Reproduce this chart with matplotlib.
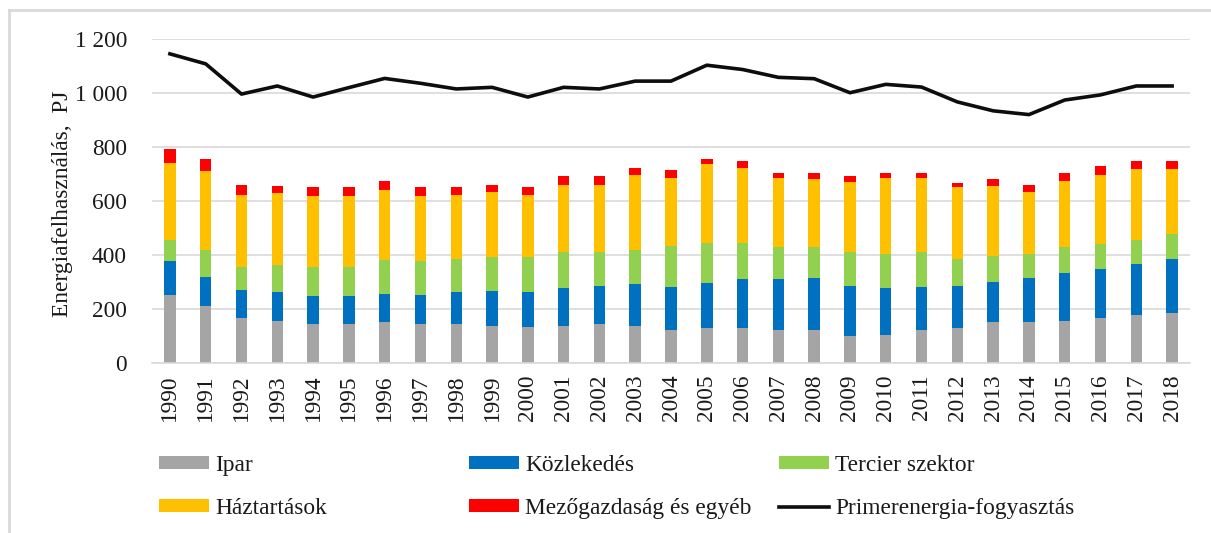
import matplotlib
matplotlib.use("Agg")
import matplotlib.pyplot as plt
from matplotlib.patches import Patch
from matplotlib.lines import Line2D
from matplotlib.ticker import FuncFormatter

years = [str(y) for y in range(1990, 2019)]
ipar = [252, 210, 167, 157, 143, 143, 152, 143, 143, 138, 133, 138, 143, 138, 124,
        129, 129, 124, 124, 100, 105, 124, 129, 152, 152, 157, 167, 177, 187]
kozlekedes = [124, 109, 105, 105, 105, 105, 105, 109, 119, 129, 129, 139, 144, 154, 158,
              166, 181, 186, 191, 187, 172, 158, 158, 148, 163, 177, 182, 190, 199]
tercier = [81, 100, 85, 100, 109, 109, 125, 124, 124, 124, 129, 133, 123, 127, 152,
           149, 134, 119, 114, 123, 128, 128, 99, 96, 90, 95, 90, 90, 91]
haztartasok = [285, 293, 266, 266, 261, 261, 259, 242, 237, 242, 232, 251, 251, 276, 251,
               293, 279, 256, 251, 261, 280, 275, 265, 260, 228, 246, 259, 260, 240]
mezogazdasag = [52, 43, 38, 28, 33, 33, 34, 33, 28, 28, 28, 30, 30, 28, 28,
                19, 24, 18, 23, 20, 18, 18, 15, 24, 25, 28, 30, 30, 30]
primer = [1145, 1108, 996, 1026, 985, 1020, 1054, 1036, 1015, 1021, 985, 1021, 1015, 1044, 1044,
          1103, 1087, 1058, 1053, 1001, 1032, 1022, 967, 934, 920, 974, 993, 1026, 1026]

series = [
    ("Ipar", ipar, "#A5A5A5"),
    ("Közlekedés", kozlekedes, "#0070C0"),
    ("Tercier szektor", tercier, "#92D050"),
    ("Háztartások", haztartasok, "#FFC000"),
    ("Mezőgazdaság és egyéb", mezogazdasag, "#FF0000"),
]
line_label = "Primerenergia-fogyasztás"

plt.rcParams['font.family'] = ['Liberation Serif', 'DejaVu Serif']
FS = 16.8
TXT = "#1a1a1a"

fig = plt.figure(figsize=(12.11, 5.33), dpi=100)
ax = fig.add_axes([152/1211, 1-363/533, (1190-152)/1211, (363-39)/533])

x = list(range(len(years)))
bottom = [0]*len(years)
for name, vals, col in series:
    ax.bar(x, vals, width=0.32, bottom=bottom, color=col, linewidth=0, zorder=2)
    bottom = [b+v for b, v in zip(bottom, vals)]
ax.plot(x, primer, color="#0d0d0d", linewidth=2.6, zorder=3, solid_joinstyle='round')

ax.set_xlim(-0.5, len(years)-0.5)
ax.set_ylim(0, 1200)
ax.set_yticks(range(0, 1201, 200))
ax.yaxis.set_major_formatter(FuncFormatter(lambda v, p: f"{int(v):,}".replace(",", " ")))
ax.set_xticks(x)
ax.set_xticklabels(years, rotation=90, fontsize=FS, color=TXT)
ax.tick_params(axis='y', labelsize=FS, labelcolor=TXT, length=0, pad=18)
ax.tick_params(axis='x', length=0, pad=8)
ax.grid(axis='y', color="#d9d9d9", linewidth=1.2, zorder=0)
ax.set_axisbelow(True)
for s in ['left', 'right', 'top']:
    ax.spines[s].set_visible(False)
ax.spines['bottom'].set_color("#d9d9d9")
ax.spines['bottom'].set_linewidth(1.2)
ax.set_ylabel("Energiafelhasználás,  PJ", fontsize=FS, color=TXT)
ax.yaxis.set_label_coords(-0.076, 0.49)

# legends, one per column
handles = [Patch(facecolor=c, edgecolor='none') for _, _, c in series]
labels = [n for n, _, _ in series]
handles.append(Line2D([0], [0], color="#0d0d0d", linewidth=2.6))
labels.append(line_label)
cols = [(0, 3), (1, 4), (2, 5)]
xs = [159/1211, 469/1211, 779/1211]
for (i, j), xx in zip(cols, xs):
    lg = fig.legend([handles[i], handles[j]], [labels[i], labels[j]], loc='center left',
                    bbox_to_anchor=(xx, 1-487/533), frameon=False, fontsize=FS,
                    handlelength=2.15, handleheight=0.5, handletextpad=0.25,
                    labelspacing=0.95, borderpad=0, borderaxespad=0)
    for t in lg.get_texts():
        t.set_color(TXT)

# outer frame (top and left)
fig.add_artist(Line2D([9/1211, 9/1211], [0, 1-10/533], transform=fig.transFigure, color="#d9d9d9", linewidth=2))
fig.add_artist(Line2D([9/1211, 1], [1-10/533, 1-10/533], transform=fig.transFigure, color="#d9d9d9", linewidth=2))

fig.savefig("out.png", dpi=100)
